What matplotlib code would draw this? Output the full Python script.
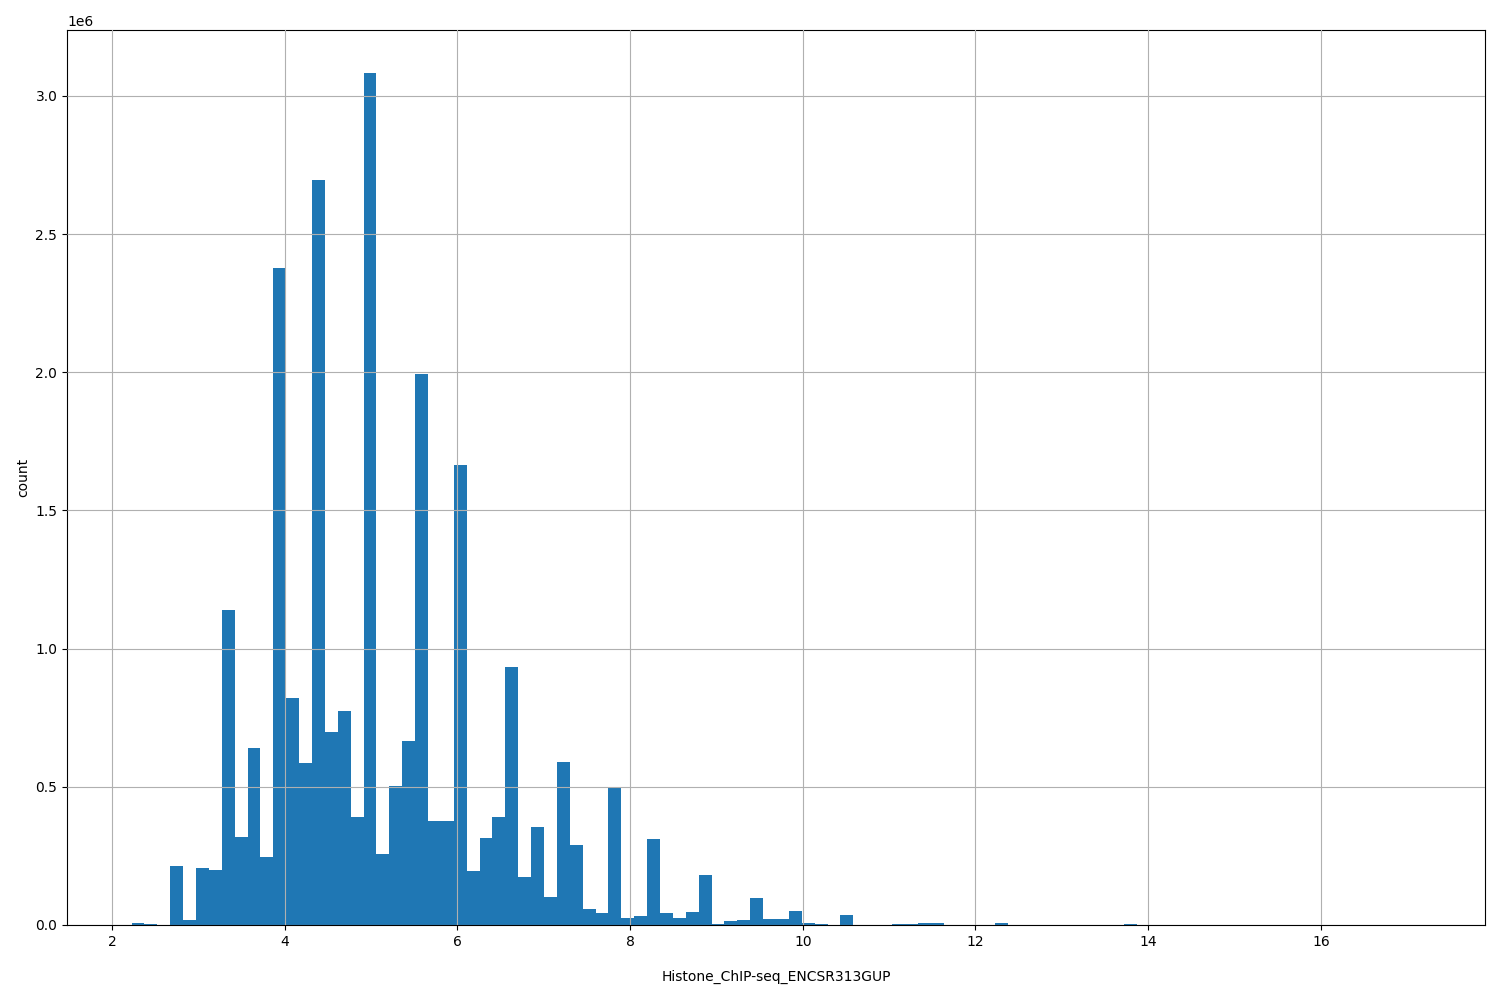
import numpy as np
import matplotlib.pyplot as plt

# histogram of values, 100 equal bins between lo and hi
lo, hi = 2.225, 17.155
nbins = 100
counts = [
    8000, 5000, 0, 213500, 18000, 206000, 199000, 1140000, 318000, 641000,
    247000, 2378000, 822000, 586000, 2696000, 698000, 775000, 391000, 3084000, 257000,
    503000, 666000, 1994000, 378000, 378000, 1665000, 195000, 315000, 391000, 934000,
    175000, 355000, 101000, 590000, 290000, 58000, 43000, 497000, 25000, 32000,
    311000, 43000, 25000, 47000, 181000, 4000, 15000, 18000, 98000, 22000,
    22000, 50000, 7000, 4000, 0, 36000, 0, 0, 0, 4000,
    4000, 7000, 7000, 0, 0, 0, 0, 8000, 0, 0,
    0, 0, 0, 0, 0, 0, 0, 5000, 0, 0,
    0, 0, 0, 0, 0, 0, 0, 0, 0, 0,
    0, 0, 0, 0, 0, 0, 0, 0, 0, 100,
]
xlabel = 'Histone_ChIP-seq_ENCSR313GUP'

edges = np.linspace(lo, hi, nbins + 1)
centers = (edges[:-1] + edges[1:]) / 2

fig, ax = plt.subplots(figsize=(15, 10), dpi=100)
ax.hist(centers, bins=edges, weights=counts, color='#1f77b4')
ax.grid(True)
ax.set_axisbelow(False)
ax.set_xlabel(xlabel, labelpad=15)
ax.set_ylabel('count')
fig.subplots_adjust(left=0.0447, right=0.99, top=0.97, bottom=0.075)
fig.savefig('out.png')
